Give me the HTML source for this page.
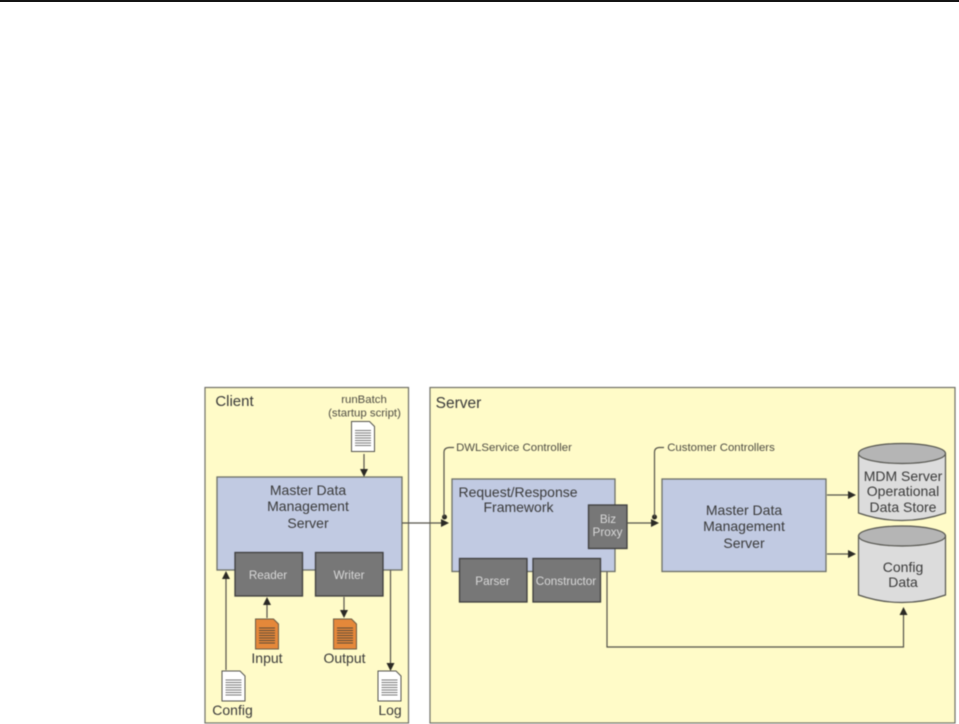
<!DOCTYPE html>
<html>
<head>
<meta charset="utf-8">
<style>
html,body{margin:0;padding:0;background:#fff;width:959px;height:724px;overflow:hidden;position:relative}
#top{position:absolute;left:0;top:0;width:959px;height:1.5px;background:#141414;z-index:2}
svg{display:block;filter:blur(0.5px)}
text{font-family:"Liberation Sans",sans-serif;text-anchor:middle}
.l{fill:#3a3a3a;font-size:14px}
.s{fill:#4f4d44;font-size:11.4px}
.w{fill:#d8d8d8;font-size:11.7px}
.panel{fill:#fffbc8;stroke:#6f6f66;stroke-width:1.2}
.blue{fill:#c1cae2;stroke:#6d7068;stroke-width:1.3}
.gray{fill:#777;stroke:#3e3e3e;stroke-width:1.3}
.ln{fill:none;stroke:#55534a;stroke-width:1.2}
.ah{fill:#2b2a25}
.doc{fill:#fff;stroke:#55554f;stroke-width:1}
.odoc{fill:#e5883a;stroke:#6a5a45;stroke-width:1}
.dl{stroke:#777;stroke-width:1}
.odl{stroke:#5a4a38;stroke-width:1}
.cyl{fill:#dcdcdc;stroke:#55554f;stroke-width:1.2}
.cyt{fill:#b5b5b5;stroke:#55554f;stroke-width:1.2}
</style>
</head>
<body>
<div id="top"></div>
<svg width="959" height="724" viewBox="0 0 959 724" xmlns="http://www.w3.org/2000/svg">
<defs>
<g id="lines"><path d="M3.5 9H19.5M3.5 11.5H19.5M3.5 14H19.5M3.5 16.500H19.5M3.5 19H19.5M3.5 21.5H19.5M3.5 24H19.5"/></g>
<g id="doc"><path class="doc" d="M0 0H18L23 5V30H0Z"/><use href="#lines" class="dl"/></g>
<g id="odoc"><path class="odoc" d="M0 0H18L23 5V30H0Z"/><use href="#lines" class="odl"/></g>
</defs>

<rect class="panel" x="205" y="387.5" width="203.5" height="335.5"/>
<rect class="panel" x="430" y="387.5" width="525" height="335.5"/>

<text class="l" x="234.500" y="406" style="font-size:15px">Client</text>
<text class="l" x="458.500" y="408" style="font-size:15.500px">Server</text>

<text class="s" x="364" y="403">runBatch</text>
<text class="s" x="364.500" y="416.500">(startup script)</text>
<use href="#doc" x="351.5" y="421.5"/>
<path class="ln" d="M364 454V470"/><path class="ah" d="M360 469H368L364 477Z"/>

<rect class="blue" x="217" y="477" width="185" height="93"/>
<text class="l" x="308" y="495">Master Data</text>
<text class="l" x="308" y="511">Management</text>
<text class="l" x="308" y="528">Server</text>

<rect class="gray" x="235" y="552.500" width="67.500" height="43.500"/>
<rect class="gray" x="315.500" y="552.500" width="67.500" height="43.500"/>
<text class="w" x="268" y="579">Reader</text>
<text class="w" x="349" y="579">Writer</text>

<path class="ln" d="M267 618V604"/><path class="ah" d="M263 605H271L267 597Z"/>
<path class="ln" d="M344 597V611"/><path class="ah" d="M340 610H348L344 618Z"/>
<use href="#odoc" x="255.500" y="619"/>
<use href="#odoc" x="333.500" y="619"/>
<text class="l" x="267" y="663">Input</text>
<text class="l" x="344.500" y="663">Output</text>

<path class="ln" d="M226 670V578"/><path class="ah" d="M222 579H230L226 571Z"/>
<use href="#doc" x="222" y="671"/>
<text class="l" x="232.500" y="715">Config</text>

<path class="ln" d="M390.500 570V664"/><path class="ah" d="M386.500 663H394.500L390.500 671Z"/>
<use href="#doc" x="378" y="671"/>
<text class="l" x="390" y="715">Log</text>

<path class="ln" d="M402 523H443"/><path class="ah" d="M441 519L449 523L441 527Z"/>
<circle class="ah" cx="444.500" cy="517" r="2.500"/>
<path class="ln" d="M444 517V452Q444 448 449 447.500H454"/>
<text class="s" x="514" y="451">DWLService Controller</text>

<rect class="blue" x="452" y="479" width="163" height="92.500"/>
<text class="l" x="518" y="497">Request/Response</text>
<text class="l" x="518.500" y="512">Framework</text>
<rect class="gray" x="588.500" y="505" width="38.500" height="43.500"/>
<text class="w" x="608" y="523">Biz</text>
<text class="w" x="607.500" y="536">Proxy</text>
<rect class="gray" x="459.500" y="558.500" width="67.500" height="43.500"/>
<rect class="gray" x="533" y="558.500" width="67.500" height="43.500"/>
<text class="w" x="492.500" y="585">Parser</text>
<text class="w" x="566" y="585">Constructor</text>

<path class="ln" d="M627 523H653"/><path class="ah" d="M651 519L659 523L651 527Z"/>
<circle class="ah" cx="654.500" cy="517" r="2.500"/>
<path class="ln" d="M654.500 517V452Q654.500 448 659 447.500H664"/>
<text class="s" x="721" y="451">Customer Controllers</text>

<rect class="blue" x="662" y="479" width="164" height="92.500"/>
<text class="l" x="744" y="515">Master Data</text>
<text class="l" x="744" y="531">Management</text>
<text class="l" x="744" y="548">Server</text>

<path class="ln" d="M827 495H849"/><path class="ah" d="M848 491L856 495L848 499Z"/>
<path class="ln" d="M827 554H849"/><path class="ah" d="M848 550L856 554L848 558Z"/>

<path class="cyl" d="M858.500 454V513Q880 520.500 902 520.500T945.500 513V454Z"/>
<ellipse class="cyt" cx="902" cy="453.500" rx="43.500" ry="10"/>
<text class="l" x="903" y="481">MDM Server</text>
<text class="l" x="903" y="496">Operational</text>
<text class="l" x="903" y="512">Data Store</text>

<path class="cyl" d="M858.500 536V595Q880 602.500 902 602.500T945.500 595V536Z"/>
<ellipse class="cyt" cx="902" cy="536" rx="43.500" ry="10"/>
<text class="l" x="903" y="572">Config</text>
<text class="l" x="903" y="587">Data</text>

<path class="ln" d="M607 572V647H903.500V614"/><path class="ah" d="M899.500 615H907.500L903.500 607Z"/>
</svg>
</body>
</html>
